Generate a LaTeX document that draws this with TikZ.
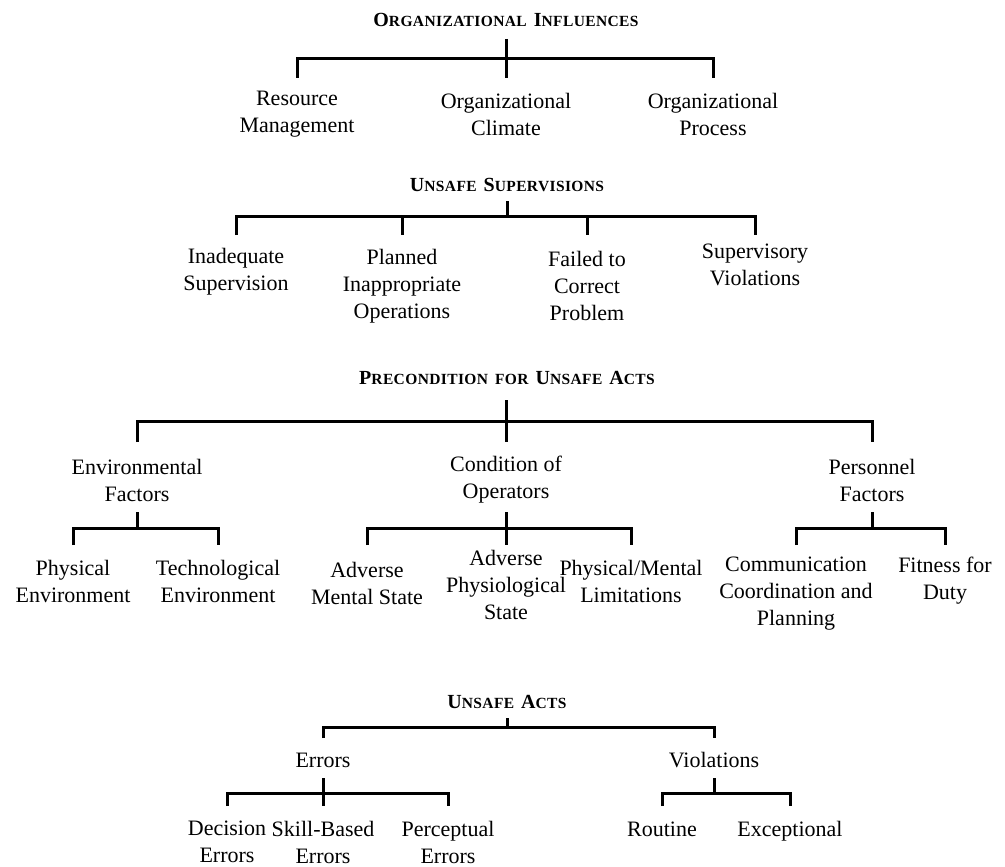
\documentclass[tikz,border=0pt]{standalone}
\usepackage{fontspec}
\setmainfont{Liberation Serif}
\newfontfamily\hdrfont[LetterSpace=2.5]{Liberation Serif}
% faked bold small caps: large initial, smaller capitals after it
\newcommand\hsc[2]{{\fontsize{20}{20}\selectfont #1}{\fontsize{15.5}{15.5}\selectfont #2}}
\newcommand\wsp{\hspace{7pt}}
\begin{document}
\begin{tikzpicture}[x=1pt,y=-1pt,
  hdr/.style={inner sep=0pt,font=\hdrfont\bfseries},
  item/.style={inner sep=0pt,align=center,font=\fontsize{22}{27}\selectfont},
  line1/.style={item,anchor=base},
  conn/.style={line width=3pt,line cap=butt,line join=miter}]
\useasboundingbox (0,0) rectangle (1005,867);

% ---------- Organizational influences ----------
\node[hdr] (t1) at (506,20) {\hsc{O}{RGANIZATIONAL}\wsp\hsc{I}{NFLUENCES}};
\node[item] (rm) at (297,114) {Resource\\Management};
\node[item] (oc) at (506,114) {Organizational\\Climate};
\node[item] (op) at (713,114) {Organizational\\Process};
\coordinate (a1) at (506,39);
\coordinate (j1) at (0,59);
\coordinate (d1) at (0,78);
\draw[conn] (a1) -- (oc |- d1);
\draw[conn] (rm |- d1) -- (rm |- j1) -- (op |- j1) -- (op |- d1);

% ---------- Unsafe supervisions ----------
\node[hdr] (t2) at (507,185) {\hsc{U}{NSAFE}\wsp\hsc{S}{UPERVISIONS}};
\node[item] (is)  at (236,272) {Inadequate\\Supervision};
\node[item] (pio) at (402,286) {Planned\\Inappropriate\\Operations};
\node[item] (fcp) at (587,286) {Failed to\\Correct\\Problem};
\node[item] (sv)  at (755,265) {Supervisory\\Violations};
\coordinate (a2) at (507,201);
\coordinate (j2) at (0,216);
\coordinate (d2) at (0,235);
\draw[conn] (a2) -- (a2 |- j2);
\draw[conn] (is |- d2) -- (is |- j2) -- (sv |- j2) -- (sv |- d2);
\draw[conn] (pio |- j2) -- (pio |- d2);
\draw[conn] (fcp |- j2) -- (fcp |- d2);

% ---------- Preconditions for unsafe acts ----------
\node[hdr] (t3) at (507,378) {\hsc{P}{RECONDITION}\wsp\hsc{}{FOR}\wsp\hsc{U}{NSAFE}\wsp\hsc{A}{CTS}};
\node[item] (ef) at (137,480) {Environmental\\Factors};
\node[item] (co) at (506,480) {Condition of\\Operators};
\node[item] (pf) at (872,480) {Personnel\\Factors};
\coordinate (a3) at (506,400);
\coordinate (j3) at (0,421);
\coordinate (d3) at (0,442);
\draw[conn] (a3) -- (co |- d3);
\draw[conn] (ef |- d3) -- (ef |- j3) -- (pf |- j3) -- (pf |- d3);

\node[item] (pe)  at (73,581)  {Physical\\Environment};
\node[item] (te)  at (218,581) {Technological\\Environment};
\node[item] (ams) at (367,583) {Adverse\\Mental State};
\node[item] (aps) at (506,585) {Adverse\\Physiological\\State};
\node[item] (pml) at (631,581) {Physical/Mental\\Limitations};
\node[item] (ccp) at (796,594) {Communication\\Coordination and\\Planning};
\node[item] (fd)  at (945,581) {Fitness for\\Duty};
\coordinate (a4) at (0,512);
\coordinate (j4) at (0,528);
\coordinate (d4) at (0,545);
\draw[conn] (ef |- a4) -- (ef |- j4);
\draw[conn] (pe |- d4) -- (pe |- j4) -- (te |- j4) -- (te |- d4);
\draw[conn] (co |- a4) -- (aps |- d4);
\draw[conn] (ams |- d4) -- (ams |- j4) -- (pml |- j4) -- (pml |- d4);
\draw[conn] (pf |- a4) -- (pf |- j4);
\draw[conn] (ccp |- d4) -- (ccp |- j4) -- (fd |- j4) -- (fd |- d4);

% ---------- Unsafe acts ----------
\node[hdr] (t4) at (507,702) {\hsc{U}{NSAFE}\wsp\hsc{A}{CTS}};
\node[line1] (err) at (323,767) {Errors};
\node[line1] (vio) at (714,767) {Violations};
\coordinate (a5) at (507,718);
\coordinate (j5) at (0,727);
\coordinate (d5) at (0,738);
\draw[conn] (a5) -- (a5 |- j5);
\draw[conn] (err |- d5) -- (err |- j5) -- (vio |- j5) -- (vio |- d5);

\node[item] (de)  at (227,842) {Decision\\Errors};
\node[item] (sbe) at (323,842) {Skill-Based\\Errors};
\node[item] (per) at (448,842) {Perceptual\\Errors};
\node[line1] (rou) at (662,836) {Routine};
\node[line1] (exc) at (790,836) {Exceptional};
\coordinate (a6) at (0,778);
\coordinate (j6) at (0,793);
\coordinate (d6) at (0,806);
\draw[conn] (err |- a6) -- (sbe |- d6);
\draw[conn] (de |- d6) -- (de |- j6) -- (per |- j6) -- (per |- d6);
\draw[conn] (vio |- a6) -- (vio |- j6);
\draw[conn] (rou |- d6) -- (rou |- j6) -- (exc |- j6) -- (exc |- d6);
\end{tikzpicture}
\end{document}
